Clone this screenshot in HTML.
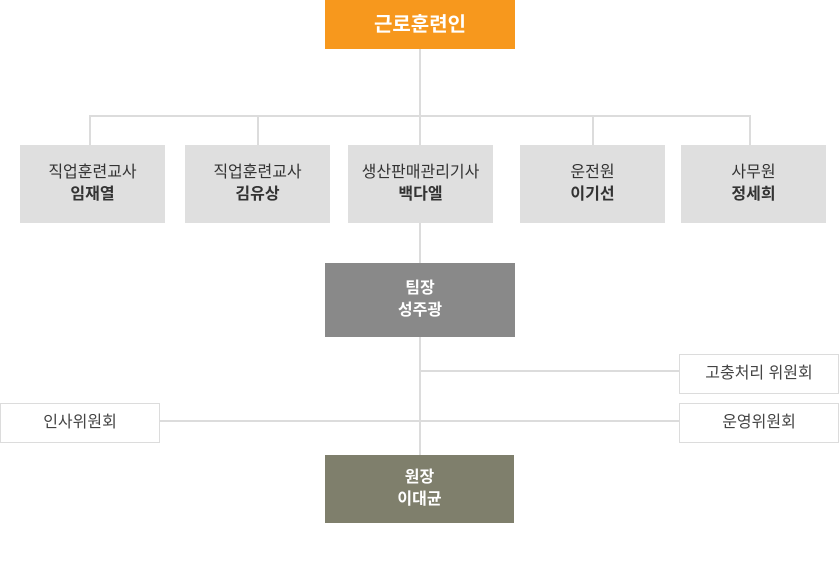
<!DOCTYPE html>
<html><head><meta charset="utf-8"><style>
body{margin:0;width:840px;height:567px;background:#fff;position:relative;overflow:hidden;font-family:"Liberation Sans","Noto Sans CJK KR","NanumGothic",sans-serif}
div{position:absolute;box-sizing:border-box}
.l{background:#dcdcdc}
.b{display:flex;flex-direction:column;align-items:center;justify-content:center;text-align:center;line-height:22px}
.g{background:#dfdfdf;color:#333;font-size:16px}
.g b{font-size:16px}
.w{background:#fff;border:1px solid #dcdcdc;color:#444;font-size:16px}
</style></head><body>
<div class="l" style="left:419px;top:49px;width:2px;height:406px"></div>
<div class="l" style="left:89px;top:115px;width:662px;height:2px"></div>
<div class="l" style="left:89px;top:115px;width:2px;height:30px"></div>
<div class="l" style="left:257px;top:115px;width:2px;height:30px"></div>
<div class="l" style="left:592px;top:115px;width:2px;height:30px"></div>
<div class="l" style="left:749px;top:115px;width:2px;height:30px"></div>
<div class="l" style="left:420px;top:370px;width:260px;height:2px"></div>
<div class="l" style="left:160px;top:420px;width:520px;height:2px"></div>
<div class="b" style="left:325px;top:0;width:190px;height:49px;background:#f7981d;color:#fff;font-size:20px;font-weight:bold">근로훈련인</div>
<div class="b g" style="left:20px;top:145px;width:145px;height:78px">직업훈련교사<b>임재열</b></div>
<div class="b g" style="left:185px;top:145px;width:145px;height:78px">직업훈련교사<b>김유상</b></div>
<div class="b g" style="left:348px;top:145px;width:145px;height:78px">생산판매관리기사<b>백다엘</b></div>
<div class="b g" style="left:520px;top:145px;width:145px;height:78px">운전원<b>이기선</b></div>
<div class="b g" style="left:681px;top:145px;width:145px;height:78px">사무원<b>정세희</b></div>
<div class="b" style="left:325px;top:263px;width:190px;height:74px;background:#898989;color:#fff;font-size:16px;font-weight:bold">팀장<span>성주광</span></div>
<div class="b" style="left:325px;top:455px;width:189px;height:68px;background:#7f7f6c;color:#fff;font-size:16px;font-weight:bold">원장<span>이대균</span></div>
<div class="b w" style="left:679px;top:354px;width:160px;height:40px">고충처리 위원회</div>
<div class="b w" style="left:679px;top:403px;width:160px;height:40px">운영위원회</div>
<div class="b w" style="left:0;top:403px;width:160px;height:40px">인사위원회</div>
</body></html>
